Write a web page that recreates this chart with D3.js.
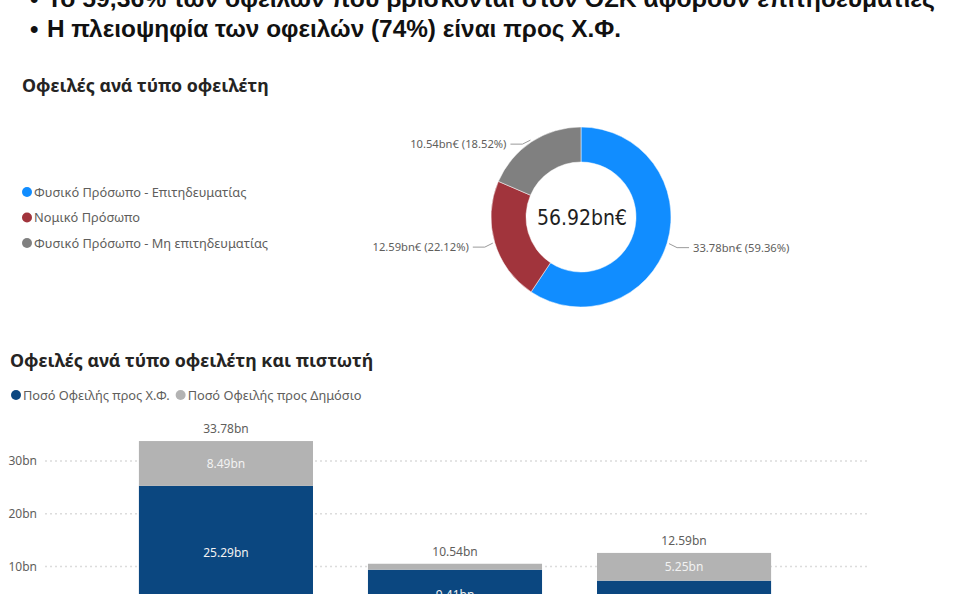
<!DOCTYPE html>
<html>
<head>
<meta charset="utf-8">
<script src="https://cdn.jsdelivr.net/npm/d3@7"></script>
<style>
  body { margin: 0; background: #fff; overflow: hidden; }
  svg { display: block; }
</style>
</head>
<body>
<div id="chart"></div>
<script>
// headline bullets
let bullets = [
  "Το 59,36% των οφειλών που βρίσκονται στον ΟΣΚ αφορούν επιτηδευματίες",
  "Η πλειοψηφία των οφειλών (74%) είναι προς Χ.Φ."
];

// donut
let debtorTypes = ["Φυσικό Πρόσωπο - Επιτηδευματίας", "Νομικό Πρόσωπο", "Φυσικό Πρόσωπο - Μη επιτηδευματίας"];
let debtorAmounts = [33.78, 12.59, 10.54];
let debtorPct = ["59.36%", "22.12%", "18.52%"];
let donutTotal = "56.92bn€";

// stacked bars
let barCats = ["Φυσικό Πρόσωπο - Επιτηδευματίας", "Φυσικό Πρόσωπο - Μη επιτηδευματίας", "Νομικό Πρόσωπο"];
let toXF = [25.29, 9.41, 7.34];
let toPublic = [8.49, 1.13, 5.25];
let barTotals = [33.78, 10.54, 12.59];
let seriesNames = ["Ποσό Οφειλής προς Χ.Φ.", "Ποσό Οφειλής προς Δημόσιο"];
let yTicks = [10, 20, 30];

let W = 953, H = 594;
let font = "'Noto Sans', 'Open Sans', sans-serif";

let svg = d3.select("#chart").append("svg")
  .attr("width", W).attr("height", H)
  .style("font-family", font);

// ---- headline ----
let head = svg.append("g").style("font-family", "'Liberation Sans', Arial, sans-serif")
  .attr("font-weight", "bold").attr("fill", "#111");
let headY = [7, 37], headW = [888, 574];
bullets.forEach(function(t, i){
  head.append("text").attr("x", 30).attr("y", headY[i]).attr("font-size", 24).text("•");
  head.append("text").attr("x", 47).attr("y", headY[i]).attr("font-size", 24)
    .attr("textLength", headW[i]).attr("lengthAdjust", "spacingAndGlyphs").text(t);
});

// ---- donut section ----
svg.append("text").attr("x", 22).attr("y", 92)
  .attr("font-size", 17.8).attr("font-weight", "bold").attr("fill", "#252423")
  .text("Οφειλές ανά τύπο οφειλέτη");

let donutColors = d3.scaleOrdinal().domain(debtorTypes).range(["#118DFF", "#A1343C", "#808080"]);

let legend1 = svg.append("g");
debtorTypes.forEach(function(d, i){
  let yy = 192 + i * 25.5;
  legend1.append("circle").attr("cx", 27).attr("cy", yy).attr("r", 5).attr("fill", donutColors(d));
  legend1.append("text").attr("x", 34).attr("y", yy + 4.5)
    .attr("font-size", 12.8).attr("fill", "#605E5C").text(d);
});

let cx = 581, cy = 217, rOut = 90, rIn = 55;
let pie = d3.pie().sort(null).value(function(d){ return d.v; });
let pieData = pie(debtorTypes.map(function(d, i){ return {k: d, v: debtorAmounts[i], p: debtorPct[i]}; }));
let arc = d3.arc().innerRadius(rIn).outerRadius(rOut);

let donut = svg.append("g").attr("transform", "translate(" + cx + "," + cy + ")");
donut.selectAll("path").data(pieData).enter().append("path")
  .attr("d", arc)
  .attr("fill", function(d){ return donutColors(d.data.k); })
  .attr("stroke", "#fff").attr("stroke-width", 0.5);

donut.append("text").attr("x", 1).attr("y", 8)
  .attr("text-anchor", "middle").attr("font-size", 21)
  .style("font-family", "'DejaVu Sans Condensed', 'Roboto', sans-serif")
  .attr("fill", "#1f1f1f").text(donutTotal);

pieData.forEach(function(d){
  let a = (d.startAngle + d.endAngle) / 2;
  let px = Math.sin(a) * (rOut + 2), py = -Math.cos(a) * (rOut + 2);
  let right = Math.sin(a) > 0;
  let s = right ? 1 : -1;
  let ty = py + 4;
  donut.append("polyline")
    .attr("points", [[px, py], [px + s * 8, ty], [px + s * 20, ty]].map(function(p){ return p.join(","); }).join(" "))
    .attr("fill", "none").attr("stroke", "#9a9a9a").attr("stroke-width", 1);
  donut.append("text").attr("x", px + s * 24).attr("y", ty + 4)
    .attr("text-anchor", right ? "start" : "end")
    .attr("font-size", 11.2).attr("fill", "#605E5C")
    .text(d.data.v.toFixed(2) + "bn€ (" + d.data.p + ")");
});

// ---- stacked bar section ----
svg.append("text").attr("x", 10).attr("y", 367)
  .attr("font-size", 17.8).attr("font-weight", "bold").attr("fill", "#252423")
  .text("Οφειλές ανά τύπο οφειλέτη και πιστωτή");

let barColors = ["#0B4780", "#B3B3B3"];
let lg = svg.append("g");
let lx = 16;
seriesNames.forEach(function(n, i){
  lg.append("circle").attr("cx", lx).attr("cy", 395).attr("r", 5).attr("fill", barColors[i]);
  let t = lg.append("text").attr("x", lx + 7).attr("y", 399.5)
    .attr("font-size", 12.8).attr("fill", "#605E5C").text(n);
  lx += t.node().getComputedTextLength() + 18;
});

let x = d3.scaleBand().domain(barCats).range([45, 865]).paddingInner(0.24).paddingOuter(0.41);
let y = d3.scaleLinear().domain([0, 30]).range([619.4, 461]);

let grid = svg.append("g");
grid.selectAll("line").data(yTicks).enter().append("line")
  .attr("x1", 45).attr("x2", 868)
  .attr("y1", function(d){ return y(d); }).attr("y2", function(d){ return y(d); })
  .attr("stroke", "#dcdcdc").attr("stroke-width", 1.5).attr("stroke-dasharray", "2,3");

let yAxis = d3.axisLeft(y).tickValues(yTicks).tickSize(0).tickPadding(0)
  .tickFormat(function(d){ return d + "bn"; });
let yAxisGroup = svg.append("g").attr("transform", "translate(37,0)").call(yAxis);
yAxisGroup.select(".domain").remove();
yAxisGroup.selectAll("text").attr("font-size", 12).attr("fill", "#605E5C")
  .style("font-family", font);

let rows = barCats.map(function(c, i){ return {cat: c, xf: toXF[i], pub: toPublic[i], total: barTotals[i]}; });
let stack = d3.stack().keys(["xf", "pub"]);
let layers = stack(rows);

let bars = svg.append("g");
layers.forEach(function(layer, li){
  bars.selectAll(".s" + li).data(layer).enter().append("rect")
    .attr("x", function(d){ return x(d.data.cat); })
    .attr("width", x.bandwidth())
    .attr("y", function(d){ return y(d[1]); })
    .attr("height", function(d){ return y(d[0]) - y(d[1]); })
    .attr("fill", barColors[li]);
  bars.selectAll(".l" + li).data(layer.filter(function(d){ return y(d[0]) - y(d[1]) > 15; })).enter()
    .append("text")
    .attr("x", function(d){ return x(d.data.cat) + x.bandwidth() / 2; })
    .attr("y", function(d){ return (y(d[0]) + y(d[1])) / 2 + 4.5; })
    .attr("text-anchor", "middle").attr("font-size", 12).attr("fill", "#f2f2f2")
    .text(function(d){ return (d[1] - d[0]).toFixed(2) + "bn"; });
});

bars.selectAll(".tot").data(rows).enter().append("text")
  .attr("x", function(d){ return x(d.cat) + x.bandwidth() / 2; })
  .attr("y", function(d){ return y(d.total) - 8; })
  .attr("text-anchor", "middle").attr("font-size", 12).attr("fill", "#605E5C")
  .text(function(d){ return d.total.toFixed(2) + "bn"; });
</script>
</body>
</html>
